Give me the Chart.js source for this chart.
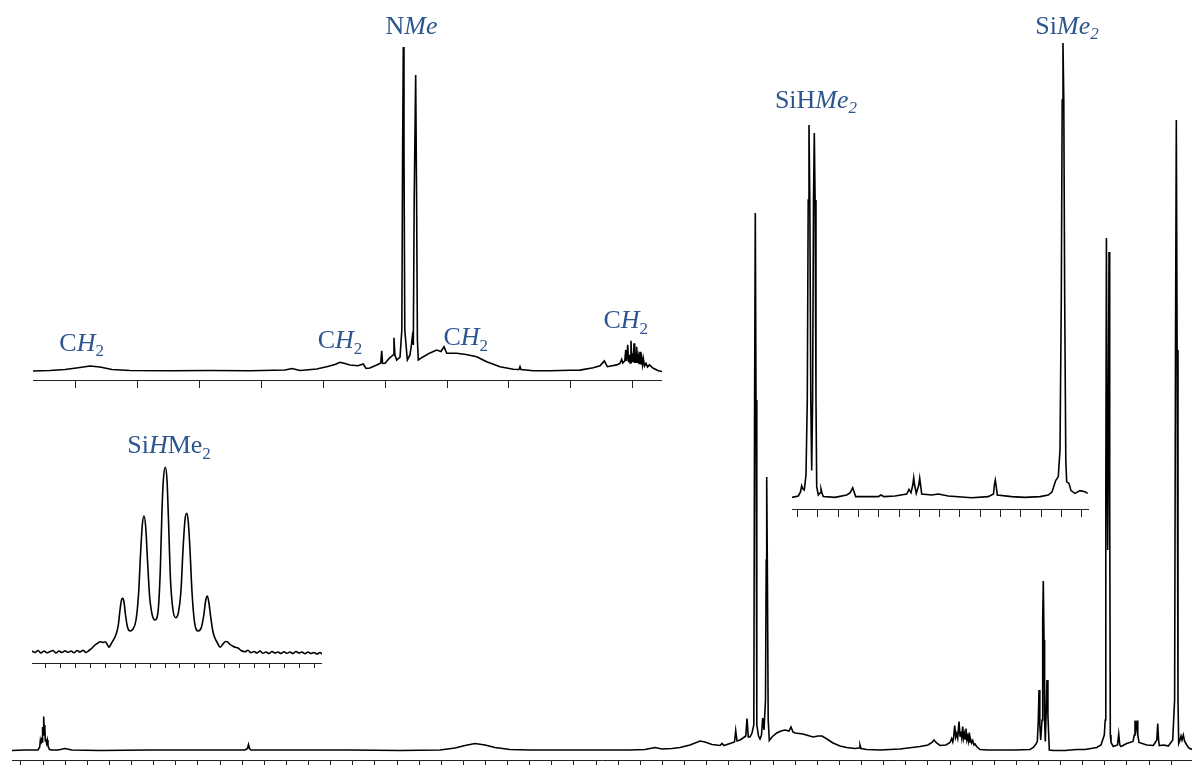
<!DOCTYPE html>
<html>
<head>
<meta charset="utf-8">
<script src="https://cdn.jsdelivr.net/npm/chart.js"></script>
<style>
  html, body { margin: 0; padding: 0; background: #fff; overflow: hidden; }
  #wrap { position: relative; width: 1192px; height: 765px; }
  canvas { position: absolute; }
</style>
</head>
<body>
<div id="wrap">
  <canvas id="cMain" width="1192" height="765" style="left:0;top:0"></canvas>
  <canvas id="cTop" width="629" height="388" style="left:33px;top:0"></canvas>
  <canvas id="cRight" width="432" height="517" style="left:760px;top:0"></canvas>
  <canvas id="cMid" width="290" height="238" style="left:32px;top:430px"></canvas>
</div>
<script>
// ---------- DATA ----------
// Main 1H spectrum: [chemical shift (ppm), intensity (a.u.)]
const mainSpectrum = [
  [5.2405,-0.1],[5.1818,0],[5.1320,0],[5.1230,0],[5.1153,0.6],[5.1126,1.8],[5.1103,1.2],[5.1071,2.0],
  [5.1040,1.6],[5.1022,4.6],[5.0999,3.0],[5.0972,6.7],[5.0945,3.0],[5.0922,5.0],[5.0900,1.8],[5.0868,2.2],
  [5.0841,1.4],[5.0809,2.0],[5.0778,0.8],[5.0710,0.1],[5.0597,0],[5.0325,0],[5.0009,0.3],[4.9693,0],
  [4.8427,-0.1],[4.6166,0],[4.3906,0],[4.1872,0],[4.1759,0.3],[4.1714,1.1],[4.1668,0.3],[4.1600,0],
  [3.9385,0],[3.7125,0],[3.4864,-0.1],[3.3056,0],[3.2378,0.4],[3.1926,0.9],[3.1474,1.3],[3.1022,1.0],
  [3.0570,0.5],[2.9892,0.1],[2.8987,0],[2.6727,0],[2.4467,0],[2.3788,0.1],[2.3336,0.5],[2.3020,0.2],
  [2.2568,0.3],[2.2206,0.5],[2.1754,1.0],[2.1302,1.8],[2.1076,1.6],[2.0759,1.1],[2.0398,0.9],[2.0307,1.3],
  [2.0217,0.9],[1.9946,1.3],[1.9742,1.6],[1.9688,3.9],[1.9629,1.8],[1.9494,2.0],[1.9358,2.4],[1.9231,2.8],
  [1.9177,6.3],[1.9119,2.6],[1.9042,2.6],[1.8951,3.4],[1.8870,5.0],[1.8834,70.0],[1.8802,107.4],[1.8770,70.0],
  [1.8734,5.0],[1.8657,2.8],[1.8590,2.2],[1.8522,3.0],[1.8467,6.4],[1.8409,4.0],[1.8341,10.0],[1.8309,38.0],
  [1.8287,54.6],[1.8259,38.0],[1.8219,6.0],[1.8169,1.9],[1.8047,2.6],[1.7834,3.4],[1.7640,3.8],[1.7459,4.0],
  [1.7278,3.8],[1.7188,4.6],[1.7098,3.6],[1.7007,3.4],[1.6646,3.2],[1.6420,2.9],[1.6193,2.6],[1.5967,2.8],
  [1.5787,2.8],[1.5561,2.2],[1.5289,1.4],[1.4973,0.8],[1.4670,0.5],[1.4295,0.3],[1.4114,0.4],[1.4069,1.0],
  [1.4024,0.3],[1.3766,0.1],[1.3165,0],[1.2260,0.2],[1.1356,0.7],[1.0995,1.0],[1.0814,1.5],[1.0723,2.0],
  [1.0633,1.5],[1.0452,0.9],[1.0181,1.0],[1.0000,1.5],[0.9923,2.3],[0.9873,1.6],[0.9837,2.4],[0.9788,4.9],
  [0.9742,2.6],[0.9697,3.3],[0.9652,2.4],[0.9593,5.7],[0.9548,2.8],[0.9516,3.7],[0.9471,2.4],[0.9426,4.7],
  [0.9390,2.4],[0.9353,3.3],[0.9317,2.2],[0.9277,4.3],[0.9236,2.0],[0.9200,2.7],[0.9164,1.8],[0.9127,3.5],
  [0.9091,1.6],[0.9060,2.0],[0.9024,1.4],[0.8974,1.9],[0.8915,1.0],[0.8870,1.2],[0.8779,0.6],[0.8644,0.1],
  [0.8327,0],[0.7740,0],[0.7061,0],[0.6383,0.1],[0.6234,0.5],[0.6112,1.2],[0.6053,1.7],[0.6008,6.0],
  [0.5976,12.0],[0.5940,5.0],[0.5900,2.0],[0.5841,6.0],[0.5809,26.0],[0.5782,33.8],[0.5750,22.0],[0.5723,6.0],
  [0.5692,1.7],[0.5651,8.0],[0.5615,14.0],[0.5574,7.0],[0.5511,0],[0.5330,-0.1],[0.4801,-0.1],[0.4272,0.1],
  [0.3897,0.1],[0.3368,0.5],[0.3174,1.0],[0.3024,3.0],[0.2984,6.0],[0.2957,50.0],[0.2929,102.4],[0.2898,60.0],
  [0.2871,40.0],[0.2844,60.0],[0.2812,99.6],[0.2780,50.0],[0.2753,3.0],[0.2722,1.5],[0.2618,0.7],[0.2428,1.0],
  [0.2373,3.2],[0.2324,1.0],[0.2269,0.7],[0.2012,1.3],[0.1727,1.7],[0.1668,3.0],[0.1637,5.9],[0.1591,4.2],
  [0.1546,5.9],[0.1510,3.0],[0.1456,1.5],[0.1108,1.0],[0.0809,0.9],[0.0651,2.0],[0.0610,5.3],[0.0570,2.0],
  [0.0538,0.9],[0.0326,1.0],[0.0131,0.8],[-0.0068,2.0],[-0.0154,10.0],[-0.0194,80.0],[-0.0231,126.0],[-0.0267,80.0],
  [-0.0307,10.0],[-0.0339,1.3],[-0.0398,2.0],[-0.0443,2.8],[-0.0488,2.0],[-0.0547,3.0],[-0.0601,1.8],[-0.0701,1.0],
  [-0.0805,0.4],[-0.0940,0.1]
];
// Top inset (NMe / CH2 region)
const topSpectrum = [
  [1.9695,-0.125],[1.9420,0],[1.9178,0.25],[1.8935,0.75],[1.8774,1.125],[1.8612,0.875],[1.8418,0.25],[1.8127,0],
  [1.7480,-0.075],[1.6833,0],[1.6187,-0.075],[1.5621,0.125],[1.5508,0.5],[1.5378,0],[1.5108,0.375],[1.4947,0.95],
  [1.4812,1.5],[1.4732,2.05],[1.4651,1.75],[1.4570,1.375],[1.4441,1.2],[1.4355,1.625],[1.4311,0.5],[1.4247,0.625],
  [1.4138,1.375],[1.4072,1.875],[1.4057,4.95],[1.4043,1.75],[1.4004,1.8],[1.3935,3.05],[1.3873,3.875],[1.3859,8.2],
  [1.3844,3.875],[1.3815,2.625],[1.3761,3.375],[1.3732,10.125],[1.3719,55.125],[1.3708,80.875],[1.3697,55.125],[1.3684,10.125],
  [1.3643,2.625],[1.3600,3.875],[1.3577,6.375],[1.3563,8.3],[1.3546,6.375],[1.3532,42.625],[1.3508,73.875],[1.3493,42.625],
  [1.3480,7.625],[1.3466,2.625],[1.3385,3.45],[1.3276,4.4],[1.3168,5.1],[1.3099,4.75],[1.3050,5.95],[1.3006,4.3],
  [1.2845,4.3],[1.2694,4.0],[1.2521,3.45],[1.2360,2.2],[1.2145,0.95],[1.1930,0.3],[1.1838,0.25],[1.1821,0.95],
  [1.1805,0.25],[1.1606,-0.05],[1.1336,-0.05],[1.1013,0.05],[1.0851,0.1],[1.0636,0.7],[1.0528,1.2],[1.0458,2.4],
  [1.0410,0.95],[1.0258,1.4],[1.0205,1.8],[1.0177,2.8],[1.0161,1.9],[1.0127,2.4],[1.0112,5.1],[1.0098,2.4],
  [1.0080,6.4],[1.0065,2.1],[1.0054,3.9],[1.0041,1.9],[1.0027,7.45],[1.0012,2.1],[0.9999,4.3],[0.9988,2.1],
  [0.9978,6.8],[0.9967,1.9],[0.9957,3.9],[0.9946,1.9],[0.9935,5.95],[0.9922,1.9],[0.9909,3.45],[0.9896,1.6],
  [0.9881,4.7],[0.9868,1.5],[0.9854,3.05],[0.9841,1.4],[0.9828,3.05],[0.9808,1.1],[0.9784,1.8],[0.9760,0.9],
  [0.9731,1.4],[0.9666,0.55],[0.9585,-0.05],[0.95255,-0.25]
];
// Right inset (SiHMe2 / SiMe2 region)
const rightSpectrum = [
  [1.4280,-0.1],[1.3969,0.25],[1.3861,1.25],[1.3802,2.8],[1.3738,2.0],[1.3674,1.75],[1.3590,5.5],[1.3526,24.25],
  [1.3481,74.25],[1.3442,93.0],[1.3402,74.25],[1.3353,24.25],[1.3309,6.6],[1.3264,24.25],[1.3220,74.25],[1.3180,91.0],
  [1.3141,74.25],[1.3097,24.25],[1.3062,2.6],[1.2983,0.5],[1.2899,1.0],[1.2850,2.0],[1.2801,1.0],[1.2737,0.1],
  [1.2160,-0.1],[1.1583,0.5],[1.1420,1.0],[1.1287,2.3],[1.1139,0.1],[1.0025,0.1],[0.9892,0.5],[0.9744,0.1],
  [0.9201,0.25],[0.8624,0.75],[0.8511,1.9],[0.8412,1.1],[0.8323,3.0],[0.8279,4.8],[0.8235,3.0],[0.8151,0.9],
  [0.8028,3.0],[0.7983,4.7],[0.7939,3.0],[0.7885,0.75],[0.7392,0.5],[0.7066,0.75],[0.6573,0.25],[0.5419,-0.2],
  [0.4601,0.1],[0.4344,0.75],[0.4295,3.25],[0.4255,4.25],[0.4211,2.75],[0.4157,0.5],[0.3447,0.1],[0.2791,-0.1],
  [0.2051,0.1],[0.1642,0.5],[0.1460,1.25],[0.1277,4.1],[0.1149,5.1],[0.1065,11.75],[0.1001,49.25],[0.0957,99.25],
  [0.0917,113.5],[0.0878,99.25],[0.0833,49.25],[0.0779,9.25],[0.0735,3.8],[0.0621,3.4],[0.0523,1.6],[0.0325,0.9],
  [0.0079,1.6],[-0.0168,1.3],[-0.0301,0.9]
];
// Middle-left inset (SiHMe2 septet)
const septetSpectrum = [
  [1.8867,0.35],[1.8667,-0.4],[1.8467,0.6],[1.8267,-0.65],[1.8067,0.35],[1.7867,-0.55],[1.7667,0.1],[1.7467,0.6],
  [1.7267,-0.65],[1.7067,0.35],[1.6867,-0.4],[1.6667,0.45],[1.6467,-0.3],[1.6267,0.35],[1.6067,-0.55],[1.5867,0.6],
  [1.5667,-0.15],[1.5467,0.7],[1.5267,-0.4],[1.5067,0.6],[1.4887,1.7],[1.4667,3.35],[1.4467,4.35],[1.4333,5.0],
  [1.4133,4.6],[1.4000,5.0],[1.3867,3.85],[1.3733,2.2],[1.3600,3.85],[1.3380,6.7],[1.3233,9.35],[1.3113,13.35],
  [1.3000,20.85],[1.2900,25.85],[1.2820,26.7],[1.2733,24.85],[1.2633,18.35],[1.2500,12.35],[1.2333,10.35],[1.2133,11.35],
  [1.1933,15.85],[1.1767,28.35],[1.1633,48.35],[1.1513,63.35],[1.1400,67.85],[1.1287,62.35],[1.1167,45.85],[1.1033,28.35],
  [1.0867,18.85],[1.0667,15.85],[1.0467,19.85],[1.0313,40.85],[1.0200,70.85],[1.0100,86.85],[0.9980,92.2],[0.9867,85.85],
  [0.9767,65.85],[0.9633,35.85],[0.9467,20.85],[0.9287,17.0],[0.9100,19.85],[0.8933,30.85],[0.8800,50.85],[0.8667,65.85],
  [0.8553,69.2],[0.8447,64.85],[0.8333,50.85],[0.8200,29.85],[0.8033,14.85],[0.7780,10.35],[0.7567,12.35],[0.7413,18.35],
  [0.7280,25.85],[0.7180,27.85],[0.7080,24.85],[0.6953,17.35],[0.6800,9.85],[0.6667,6.7],[0.6500,4.35],[0.6333,2.2],
  [0.6133,3.85],[0.5967,5.1],[0.5847,5.0],[0.5667,3.6],[0.5500,2.85],[0.5333,2.2],[0.5133,1.85],[0.4933,0.6],
  [0.4667,0],[0.4467,0.7],[0.4267,-0.55],[0.4067,0.1],[0.3867,-0.65],[0.3667,0.35],[0.3467,-0.8],[0.3267,-0.15],
  [0.3067,-0.9],[0.2867,0.1],[0.2667,-0.65],[0.2467,-0.15],[0.2267,-0.9],[0.2067,-0.05],[0.1867,-0.8],[0.1667,-0.15],
  [0.1467,-0.9],[0.1267,0.1],[0.1067,-0.65],[0.0867,-0.15],[0.0667,-1.05],[0.0467,-0.15],[0.0267,-0.9],[0.0067,-0.4],
  [-0.0133,-1.15],[-0.0333,-0.4],[-0.0467,-1.15]
];
// Tick values (unlabelled ppm ticks)
const mainTicks = [5.2,5.1,5.0,4.9,4.8,4.7,4.6,4.5,4.4,4.3,4.2,4.1,4.0,3.9,3.8,3.7,3.6,3.5,3.4,3.3,3.2,3.1,3.0,2.9,2.8,2.7,2.6,
  2.5,2.4,2.3,2.2,2.1,2.0,1.9,1.8,1.7,1.6,1.5,1.4,1.3,1.2,1.1,1.0,0.9,0.8,0.7,0.6,0.5,0.4,0.3,0.2,0.1,0.0];
const topTicks = [1.9,1.8,1.7,1.6,1.5,1.4,1.3,1.2,1.1,1.0];
const rightTicks = [1.4,1.3,1.2,1.1,1.0,0.9,0.8,0.7,0.6,0.5,0.4,0.3,0.2,0.1,0.0];
const septetTicks = [1.8,1.7,1.6,1.5,1.4,1.3,1.2,1.1,1.0,0.9,0.8,0.7,0.6,0.5,0.4,0.3,0.2,0.1,0.0];
// Peak assignments: text parts (i = italic, sub = subscript) anchored at [shift, intensity]
const topLabels = [
  { at: [1.3576, 84.25], parts: [{ t: 'N' }, { t: 'Me', i: true }] },
  { at: [1.8908, 5.0], parts: [{ t: 'C' }, { t: 'H', i: true }, { t: '2', sub: true }] },
  { at: [1.4732, 5.55], parts: [{ t: 'C' }, { t: 'H', i: true }, { t: '2', sub: true }] },
  { at: [1.2698, 6.375], parts: [{ t: 'C' }, { t: 'H', i: true }, { t: '2', sub: true }] },
  { at: [1.0111, 10.55], parts: [{ t: 'C' }, { t: 'H', i: true }, { t: '2', sub: true }] }
];
const rightLabels = [
  { at: [1.3097, 97.375], parts: [{ t: 'SiH' }, { t: 'Me', i: true }, { t: '2', i: true, sub: true }] },
  { at: [0.0720, 115.875], parts: [{ t: 'Si' }, { t: 'Me', i: true }, { t: '2', i: true, sub: true }] }
];
const septetLabels = [
  { at: [0.9733, 99.35], parts: [{ t: 'Si' }, { t: 'H', i: true }, { t: 'Me' }, { t: '2', sub: true }] }
];

// ---------- DRAWING ----------
const LABEL_COLOR = '#2d568e';
const FONT_FAMILY = '"Liberation Serif", "Times New Roman", Times, serif';
const FONT_SIZE = 26;

const labelPlugin = {
  id: 'peakLabels',
  afterDraw(chart, args, opts) {
    const items = opts.items || [];
    const ctx = chart.ctx;
    const xs = chart.scales.x, ys = chart.scales.y;
    ctx.save();
    ctx.fillStyle = LABEL_COLOR;
    ctx.textBaseline = 'alphabetic';
    ctx.textAlign = 'left';
    const fontOf = p => (p.i ? 'italic ' : '') + (p.sub ? Math.round(FONT_SIZE * 0.66) : FONT_SIZE) + 'px ' + FONT_FAMILY;
    items.forEach(item => {
      const cx = xs.getPixelForValue(item.at[0]);
      const by = ys.getPixelForValue(item.at[1]);
      let w = 0;
      item.parts.forEach(p => { ctx.font = fontOf(p); w += ctx.measureText(p.t).width; });
      let x = cx - w / 2;
      item.parts.forEach(p => {
        ctx.font = fontOf(p);
        ctx.fillText(p.t, x, by + (p.sub ? FONT_SIZE * 0.22 : 0));
        x += ctx.measureText(p.t).width;
      });
    });
    ctx.restore();
  }
};

function makeSpectrum(id, data, ticks, xRange, yRange, tickLen, pad, labels, smooth) {
  return new Chart(document.getElementById(id), {
    type: 'line',
    data: {
      datasets: [{
        data: data,
        borderColor: '#000',
        borderWidth: 1.6,
        pointRadius: 0,
        fill: false,
        tension: smooth ? 0.4 : 0,
        cubicInterpolationMode: smooth ? 'monotone' : 'default'
      }]
    },
    options: {
      responsive: false,
      animation: false,
      devicePixelRatio: 1,
      layout: { padding: { left: pad[0], right: pad[1], top: 0, bottom: 0 } },
      plugins: {
        legend: { display: false },
        tooltip: { enabled: false },
        peakLabels: { items: labels }
      },
      scales: {
        x: {
          type: 'linear',
          reverse: true,
          min: xRange[0],
          max: xRange[1],
          afterBuildTicks: s => { s.ticks = ticks.map(v => ({ value: v })); },
          ticks: { display: false },
          grid: {
            display: true,
            drawOnChartArea: false,
            drawTicks: true,
            tickLength: tickLen,
            tickColor: '#222',
            tickWidth: 1
          },
          border: { display: true, color: '#222', width: 1 }
        },
        y: {
          display: false,
          min: yRange[0],
          max: yRange[1]
        }
      }
    },
    plugins: [labelPlugin]
  });
}

makeSpectrum('cMain', mainSpectrum, mainTicks, [-0.094, 5.2405], [-2, 150], 5, [12, 0], [], false);
makeSpectrum('cTop', topSpectrum, topTicks, [0.95255, 1.9695], [-2.375, 92.625], 8, [0, 0], topLabels, false);
makeSpectrum('cRight', rightSpectrum, rightTicks, [-0.0316, 1.4280], [-3, 124.25], 8, [32, 104], rightLabels, false);
makeSpectrum('cMid', septetSpectrum, septetTicks, [-0.0467, 1.8867], [-5.65, 110.85], 5, [0, 0], septetLabels, true);
</script>
</body>
</html>
